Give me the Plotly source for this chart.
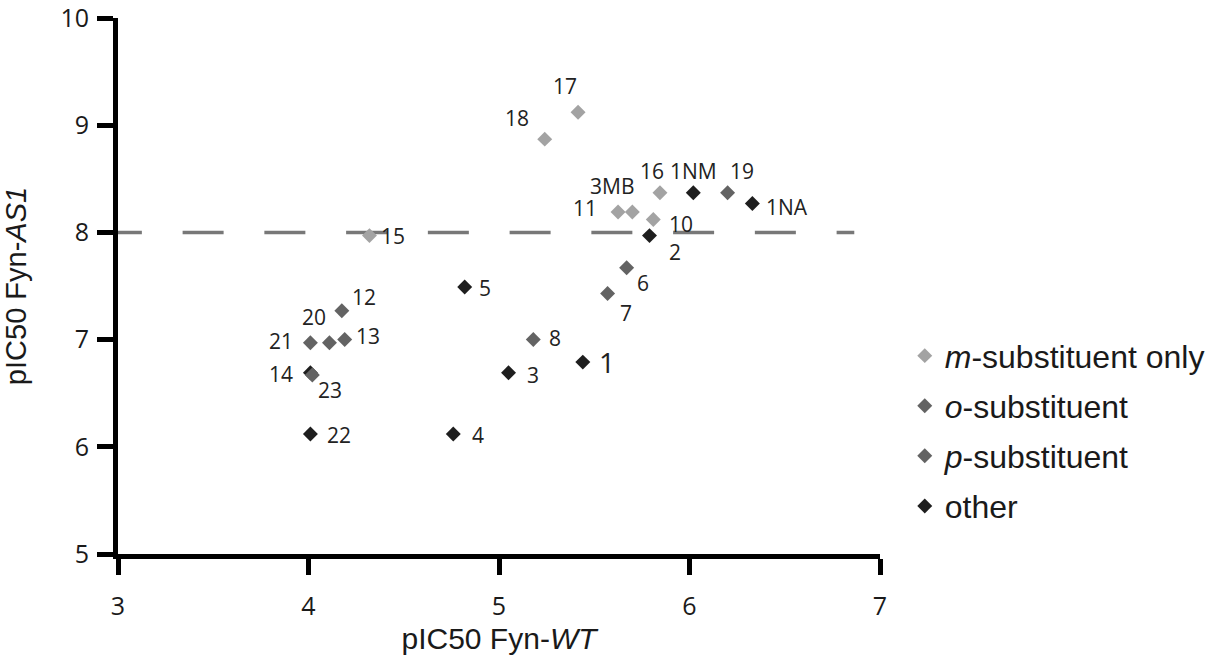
import plotly.graph_objects as go

# ---------------- data ----------------
other_names = ["1NM", "1NA", "2", "5", "1", "3", "4", "14", "22"]
other_x = [6.02, 6.33, 5.79, 4.82, 5.44, 5.05, 4.76, 4.01, 4.01]
other_y = [8.37, 8.27, 7.97, 7.49, 6.79, 6.69, 6.12, 6.69, 6.12]

m_names = ["17", "18", "16", "11", "3MB", "10", "15"]
m_x = [5.415, 5.24, 5.845, 5.625, 5.70, 5.81, 4.32]
m_y = [9.12, 8.87, 8.37, 8.19, 8.19, 8.12, 7.97]

o_names = ["12", "13", "20", "21", "23"]
o_x = [4.175, 4.19, 4.11, 4.01, 4.02]
o_y = [7.27, 7.00, 6.97, 6.97, 6.67]

p_names = ["19", "6", "7", "8"]
p_x = [6.20, 5.67, 5.57, 5.18]
p_y = [8.37, 7.67, 7.43, 7.00]

threshold = 8.0
x_ticks = [3, 4, 5, 6, 7]
y_ticks = [5, 6, 7, 8, 9, 10]

# ---------------- label placement (pixel offsets: dx, dy downward) ----------------
label_offsets = {
    "17": (-13, -26), "18": (-28, -21), "16": (-8, -22), "1NM": (0, -22),
    "19": (14, -22), "1NA": (35, 4), "3MB": (-20, -26), "11": (-33, -4),
    "10": (28, 4), "2": (25, 16), "6": (16, 15), "7": (18, 19),
    "15": (24, 0), "5": (20, 1), "12": (22, -14), "20": (-15, -26),
    "21": (-29, -2), "13": (23, -4), "14": (-29, 1), "23": (18, 15),
    "22": (29, 1), "4": (25, 1), "3": (24, 2), "8": (22, -2), "1": (24, 0),
}

C_M = "#a3a3a3"
C_OP = "#636363"
C_OTHER = "#1e1e1e"
MSIZE = 11.5

fig = go.Figure()

# dashed reference line
fig.add_trace(go.Scatter(
    x=[2.91, 6.865], y=[threshold, threshold], mode="lines",
    line=dict(color="#787878", width=3.5, dash="41px,40.75px"),
    showlegend=False, hoverinfo="skip"))

series = [
    ("other", other_names, other_x, other_y, C_OTHER, 4),
    ("<i>m</i>-substituent only", m_names, m_x, m_y, C_M, 1),
    ("<i>o</i>-substituent", o_names, o_x, o_y, C_OP, 2),
    ("<i>p</i>-substituent", p_names, p_x, p_y, C_OP, 3),
]

for i, (name, names, xs, ys, col, rank) in enumerate(series):
    fig.add_trace(go.Scatter(
        x=xs, y=ys, mode="markers", name=name, text=names,
        marker=dict(symbol="diamond", size=MSIZE, color=col, line=dict(width=0)),
        legendrank=rank, legendgroup=f"g{i}"))
    for n, xv, yv in zip(names, xs, ys):
        dx, dy = label_offsets[n]
        fig.add_annotation(
            x=xv, y=yv, text=n, showarrow=False, xshift=dx, yshift=-dy,
            xanchor="center", yanchor="middle",
            font=dict(family="Open Sans", size=28 if n == "1" else 21, color="#222222"))

fig.update_layout(
    width=1229, height=662,
    margin=dict(l=118, r=349, t=18, b=108, autoexpand=False),
    paper_bgcolor="white", plot_bgcolor="white",
    font=dict(family="Liberation Sans", color="#1a1a1a"),
    showlegend=True,
    legend=dict(
        x=1.0325, xanchor="left", y=0.421, yanchor="top",
        font=dict(family="Liberation Sans", size=32, color="#1a1a1a"),
        tracegroupgap=5.5, itemsizing="trace", bgcolor="rgba(0,0,0,0)"),
)

fig.update_xaxes(
    range=[3, 7], tickvals=x_ticks, showgrid=False, zeroline=False,
    showline=True, linecolor="black", linewidth=5, automargin=False,
    ticks="outside", ticklen=16, tickwidth=5, tickcolor="black",
    ticklabelstandoff=10, ticklabeloverflow="allow",
    tickfont=dict(family="Open Sans", size=25, color="#1a1a1a"),
    title=dict(text="pIC50 Fyn-<i>WT</i>", standoff=2,
               font=dict(family="Liberation Sans", size=30, color="#1a1a1a")))

fig.update_yaxes(
    range=[5, 10], tickvals=y_ticks, showgrid=False, zeroline=False,
    showline=True, linecolor="black", linewidth=5, automargin=False,
    ticks="outside", ticklen=16, tickwidth=5, tickcolor="black",
    ticklabelstandoff=3, ticklabeloverflow="allow",
    tickfont=dict(family="Open Sans", size=25, color="#1a1a1a"),
    title=dict(text="pIC50 Fyn-<i>AS1</i>", standoff=32,
               font=dict(family="Liberation Sans", size=29, color="#1a1a1a")))

fig.write_html("out.html", config={"displayModeBar": False},
               post_script="document.body.style.margin='0';document.body.style.padding='0';")
